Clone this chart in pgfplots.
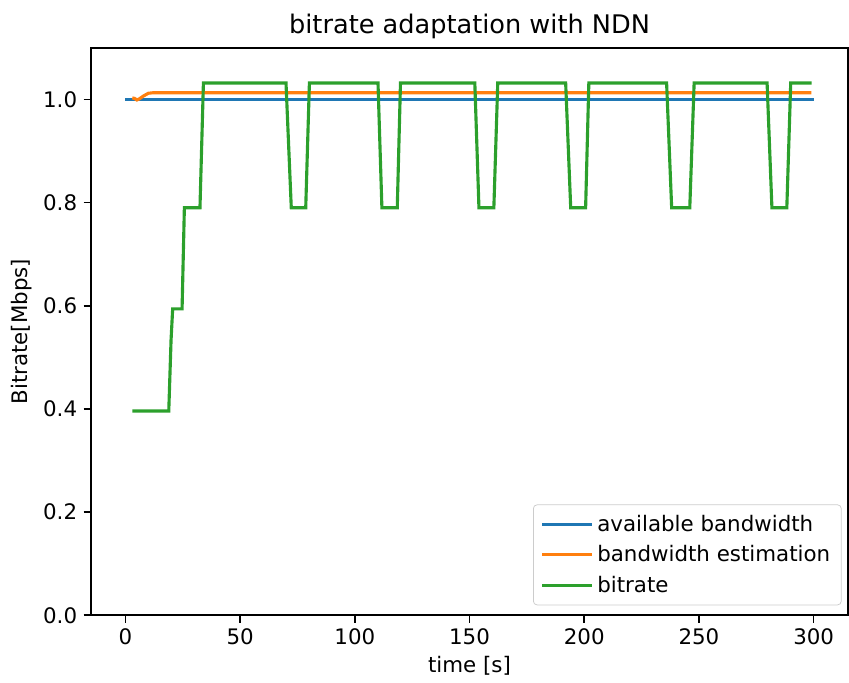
\documentclass[border=0pt]{standalone}
\usepackage{fontspec}
\setmainfont{DejaVu Sans}
\usepackage{pgfplots}
\pgfplotsset{compat=1.18}
\definecolor{c0}{HTML}{1F77B4}
\definecolor{c1}{HTML}{FF7F0E}
\definecolor{c2}{HTML}{2CA02C}
\begin{document}
\begin{tikzpicture}
\begin{axis}[
  name=ax,
  scale only axis,
  width=411pt, height=308pt,
  xmin=-15, xmax=315, ymin=0, ymax=1.1,
  xtick={0,50,100,150,200,250,300},
  ytick={0,0.2,0.4,0.6,0.8,1.0},
  yticklabel style={/pgf/number format/.cd,fixed,fixed zerofill,precision=1},
  /pgf/number format/assume math mode=true,
  tick align=outside, tick pos=left,
  major tick length=4pt,
  every tick/.style={black, line width=0.9pt},
  axis line style={line width=0.9pt},
  ticklabel style={font=\fontsize{11.6}{13}\selectfont},
  xlabel={time [s]}, ylabel={Bitrate[Mbps]},
  label style={font=\fontsize{11.6}{13}\selectfont},
  xlabel style={yshift=1pt},
  ylabel style={yshift=-1pt},
  title={bitrate adaptation with NDN},
  title style={font=\fontsize{13.9}{16}\selectfont, yshift=-4.5pt},
  legend cell align=left,
  legend style={at={(1,0)}, anchor=south east, xshift=-3.5pt, yshift=5.4pt,
    draw=black!20, rounded corners=2pt, font=\fontsize{11.6}{13}\selectfont,
    row sep=2.2pt, inner xsep=4pt, inner ysep=3.5pt},
  legend image code/.code={\draw[#1, line width=1.7pt] (0pt,0pt) -- (22pt,0pt); \path (0pt,0pt) -- (27pt,0pt);},
  every axis plot/.append style={line width=1.7pt},
]
\addplot[c0] coordinates {(0,1.0) (300,1.0)};
\addlegendentry{available bandwidth}
\addplot[c1] coordinates {(3,1.003) (4,1.002) (5,0.999) (6,1.001) (8,1.007) (10,1.012) (12,1.013) (299,1.013)};
\addlegendentry{bandwidth estimation}
\addplot[c2] coordinates {
(3,0.396) (18.9,0.396) (19.9,0.534) (20.6,0.594) (24.7,0.594) (25.7,0.790) (32.5,0.790) (34.0,1.032)
(70.0,1.032) (72.3,0.790) (78.6,0.790) (80.2,1.032)
(110.1,1.032) (111.8,0.790) (118.5,0.790) (119.9,1.032)
(152.3,1.032) (154.1,0.790) (160.6,0.790) (162.3,1.032)
(191.9,1.032) (194.1,0.790) (200.6,0.790) (202.0,1.032)
(235.9,1.032) (238.1,0.790) (246.0,0.790) (247.9,1.032)
(279.7,1.032) (281.8,0.790) (288.3,0.790) (290.0,1.032)
(299.1,1.032)};
\addlegendentry{bitrate}
\end{axis}
\pgfresetboundingbox
\path ([shift={(-49.4pt,-36.4pt)}]ax.south west) rectangle ([shift={(0.5pt,26pt)}]ax.north east);
\end{tikzpicture}
\end{document}
